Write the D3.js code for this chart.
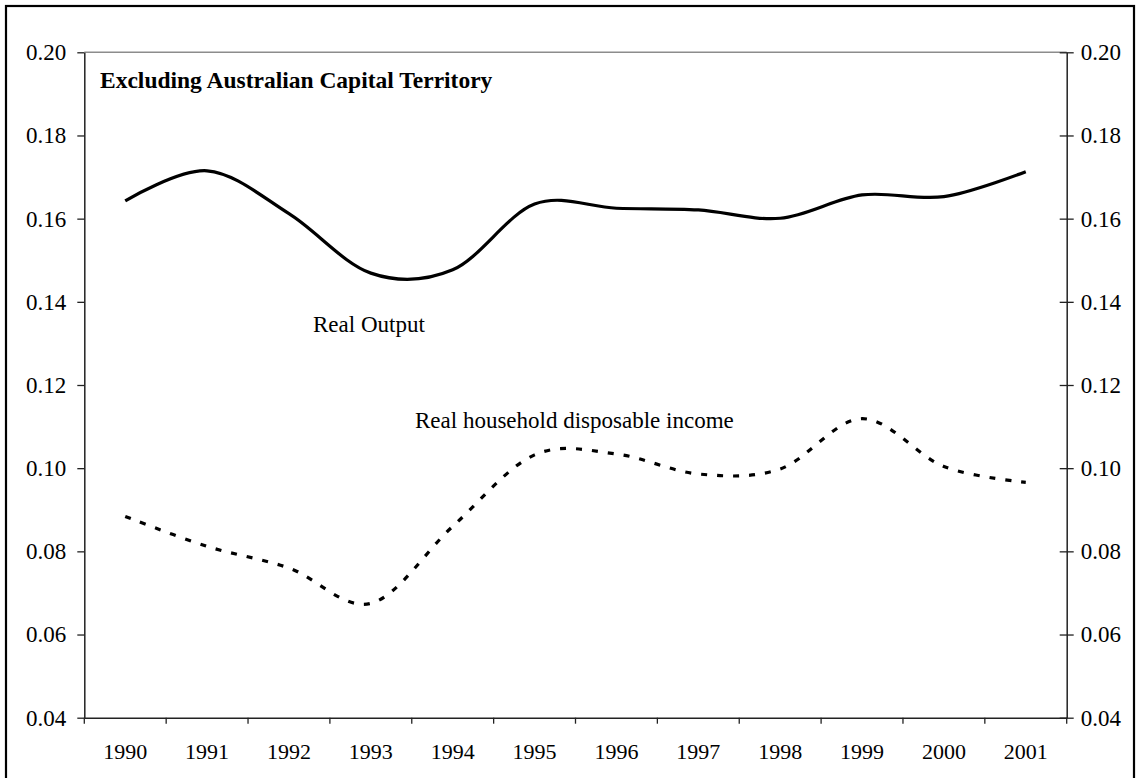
<!DOCTYPE html>
<html>
<head>
<meta charset="utf-8">
<script src="https://cdn.jsdelivr.net/npm/d3@7"></script>
<style>
  body { margin: 0; background: #fff; }
  text { font-family: "Liberation Serif", "Times New Roman", serif; fill: #000; }
</style>
</head>
<body>
<div id="chart"></div>
<script>
// data
var years = ["1990","1991","1992","1993","1994","1995","1996","1997","1998","1999","2000","2001"];
var realOutput = [0.1643, 0.1715, 0.1612, 0.1469, 0.1477, 0.1635, 0.1625, 0.1621, 0.1601, 0.1657, 0.1653, 0.1713];
var householdIncome = [0.0884, 0.0812, 0.0760, 0.0675, 0.0860, 0.1032, 0.1034, 0.0986, 0.0998, 0.1119, 0.1004, 0.0966];
var yTicks = [0.04, 0.06, 0.08, 0.10, 0.12, 0.14, 0.16, 0.18, 0.20];

var W = 1138, H = 778;
var plotL = 84.3, plotR = 1066.7, plotT = 52.3, plotB = 717.7;

// create svg element:
var svg = d3.select("#chart").append("svg").attr("width", W).attr("height", H)

// outer frame
svg.append("rect")
  .attr("x", 6).attr("y", 6)
  .attr("width", 1128).attr("height", 790)
  .attr("fill", "none")
  .attr("stroke", "#000")
  .attr("stroke-width", 2.2)

var x = d3.scaleBand().domain(years).range([plotL, plotR])
var y = d3.scaleLinear().domain([0.04, 0.20]).range([plotB, plotT])

// grey top edge of plot area
svg.append("line")
  .attr("x1", plotL).attr("x2", plotR)
  .attr("y1", y(0.20)).attr("y2", y(0.20))
  .attr("stroke", "#8c8c8c")
  .attr("stroke-width", 1.5)

// left axis
var gl = svg.append("g")
  .attr("transform", "translate(" + plotL + ",0)")
  .call(d3.axisLeft(y).tickValues(yTicks).tickFormat(d3.format(".2f")).tickSize(7).tickSizeOuter(0).tickPadding(11))

// right axis, ticks cross the line
var gr = svg.append("g")
  .attr("transform", "translate(" + plotR + ",0)")
  .call(d3.axisRight(y).tickValues(yTicks).tickFormat(d3.format(".2f")).tickSize(7).tickSizeOuter(0).tickPadding(7))
gr.selectAll(".tick line").attr("x1", -7)

// bottom axis: labels centered, tick marks between categories
var gb = svg.append("g")
  .attr("transform", "translate(0," + plotB + ")")
  .call(d3.axisBottom(x).tickSize(0).tickPadding(26).tickSizeOuter(0))
gb.selectAll(".tick line").remove()
gb.selectAll(".sep")
  .data(years.concat(["end"]))
  .enter().append("line")
  .attr("class", "sep")
  .attr("x1", function(d) { return d == "end" ? x.range()[1] : x(d) })
  .attr("x2", function(d) { return d == "end" ? x.range()[1] : x(d) })
  .attr("y1", 0).attr("y2", 6)
  .attr("stroke", "#222")
  .attr("stroke-width", 1.3)

svg.selectAll(".domain").attr("stroke", "#222").attr("stroke-width", 1.5)
svg.selectAll(".tick line").attr("stroke", "#222").attr("stroke-width", 1.3)
svg.selectAll(".tick text").attr("fill", "#000")
  .style("font-family", "'Liberation Serif', 'Times New Roman', serif")
gl.selectAll(".tick text").attr("font-size", "23px")
gr.selectAll(".tick text").attr("font-size", "23px")
gb.selectAll(".tick text").attr("font-size", "22px")

// lines (smoothed like the original)
var line = d3.line()
  .x(function(d, i) { return x(years[i]) + x.bandwidth() / 2 })
  .y(function(d) { return y(d) })
  .curve(d3.curveCardinal.tension(0))

svg.append("path")
  .datum(realOutput)
  .attr("d", line)
  .attr("fill", "none")
  .attr("stroke", "#000")
  .attr("stroke-width", 3.2)

svg.append("path")
  .datum(householdIncome)
  .attr("d", line)
  .attr("fill", "none")
  .attr("stroke", "#000")
  .attr("stroke-width", 3.2)
  .attr("stroke-dasharray", "6,10")

// text labels
svg.append("text")
  .attr("x", 100).attr("y", 88)
  .attr("font-size", "23.5px")
  .attr("font-weight", "bold")
  .text("Excluding Australian Capital Territory")

svg.append("text")
  .attr("x", 313).attr("y", 332)
  .attr("font-size", "23px")
  .text("Real Output")

svg.append("text")
  .attr("x", 415).attr("y", 428)
  .attr("font-size", "23px")
  .text("Real household disposable income")
</script>
</body>
</html>
